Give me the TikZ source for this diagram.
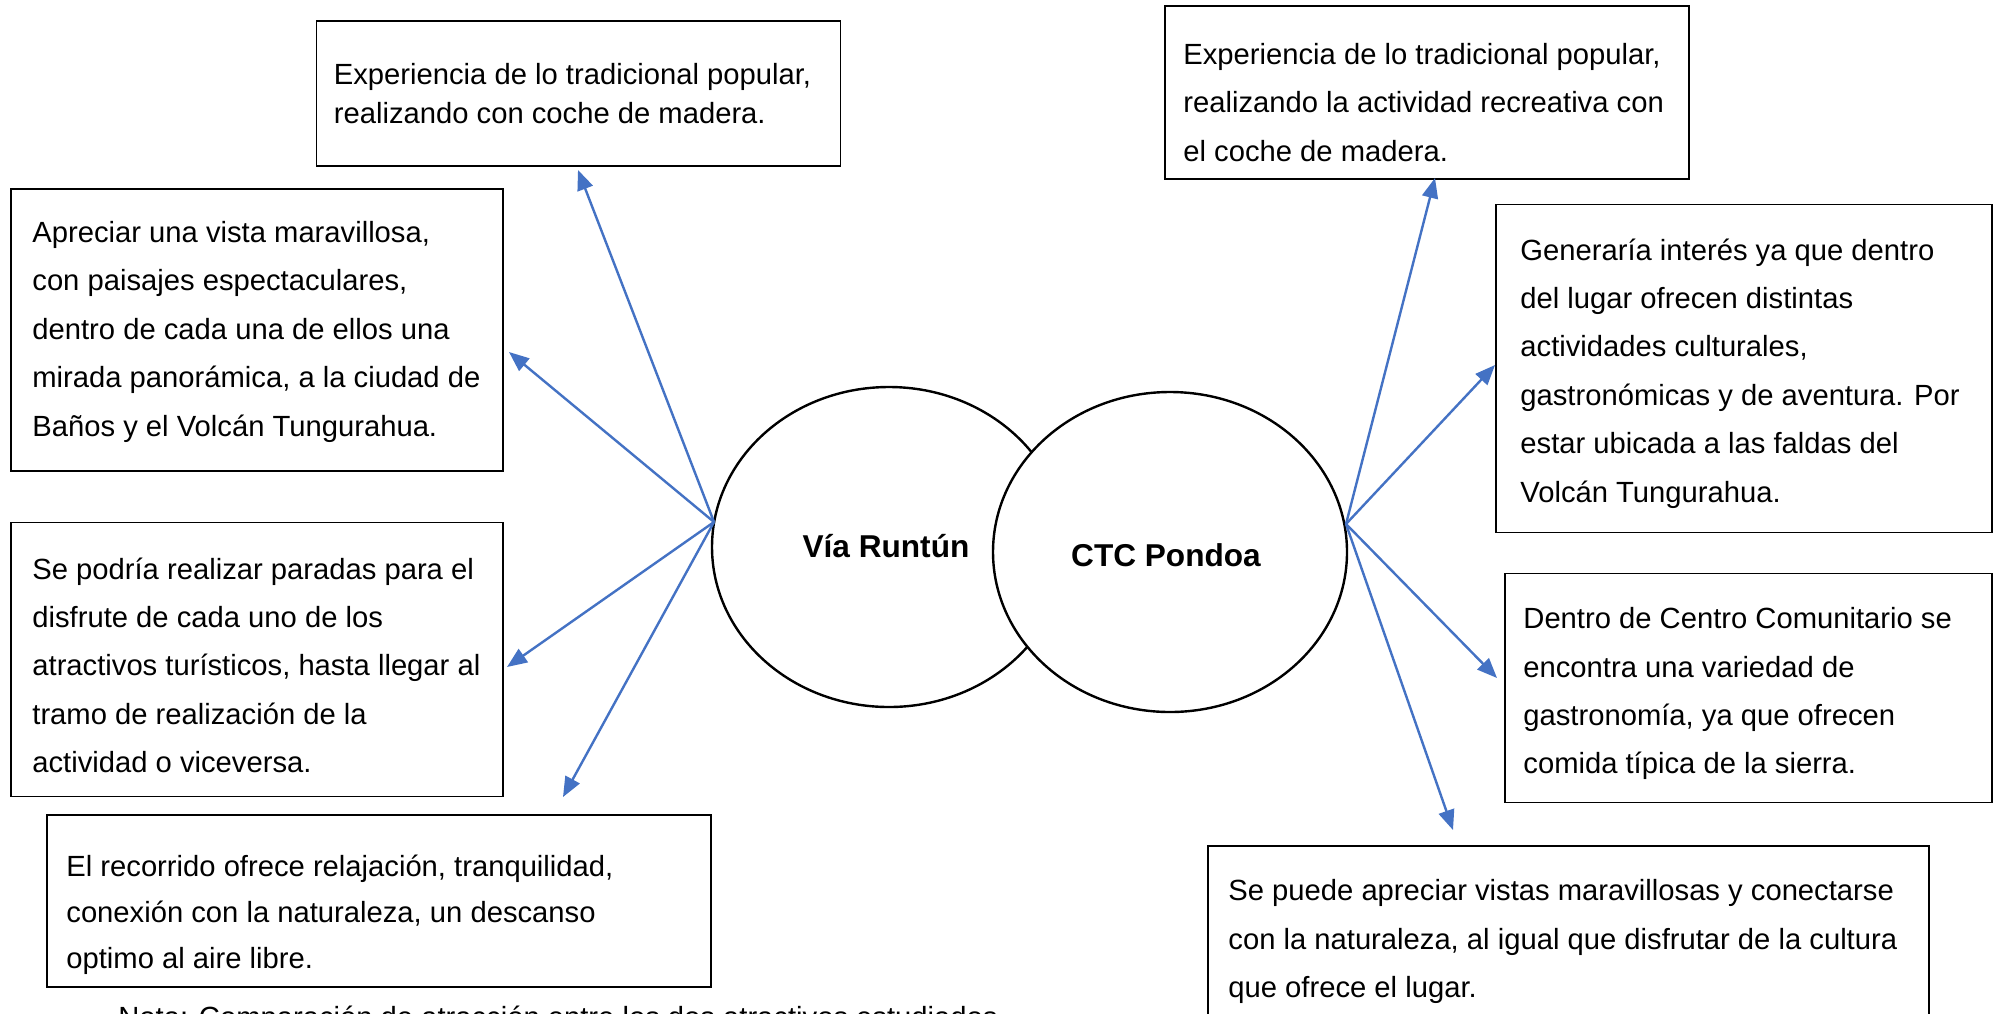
\documentclass[tikz,border=0pt]{standalone}
\usepackage{fontspec}
\setmainfont{Liberation Sans}
\usetikzlibrary{arrows.meta,shapes.geometric}
\definecolor{arrowblue}{HTML}{4472C4}
\begin{document}
\begin{tikzpicture}[x=0.5pt,y=-0.5pt,
  boxframe/.style={draw, line width=0.75pt, rectangle, inner sep=0pt, anchor=north west},
  boxtext/.style={anchor=west, align=left, inner sep=0pt, font=\fontsize{14.6}{24.2}\selectfont},
  bubble/.style={draw, line width=1.2pt, ellipse, inner sep=0pt, fill=white, minimum width=177pt, minimum height=160pt},
  bubbletext/.style={font=\fontsize{15.8}{19}\selectfont\bfseries, inner sep=0pt},
  link/.style={draw=arrowblue, line width=1.2pt, -{Triangle[length=10pt,width=8pt]}}
]
\useasboundingbox (0,0) rectangle (1995,1013);
\clip (0,0) rectangle (1995,1013);
\fill[white] (0,0) rectangle (1995,1013);

% boxes
\node[boxframe, minimum width=262pt, minimum height=72.5pt] (b1) at (315.5,20.4) {};
\node[boxtext, font=\fontsize{14.6}{19.8}\selectfont] (b1t) at ([xshift=9pt]b1.west) {Experiencia de lo tradicional popular,\\realizando con coche de madera.};

\node[boxframe, minimum width=246pt, minimum height=141pt] (b2) at (10,188) {};
\node[boxtext] (b2t) at ([xshift=11pt,yshift=-1pt]b2.west) {Apreciar una vista maravillosa,\\con paisajes espectaculares,\\dentro de cada una de ellos una\\mirada panorámica, a la ciudad de\\Baños y el Volcán Tungurahua.};

\node[boxframe, minimum width=246pt, minimum height=137pt] (b3) at (10,521.6) {};
\node[boxtext] (b3t) at ([xshift=11pt,yshift=-3pt]b3.west) {Se podría realizar paradas para el\\disfrute de cada uno de los\\atractivos turísticos, hasta llegar al\\tramo de realización de la\\actividad o viceversa.};

\node[boxframe, minimum width=332pt, minimum height=86pt] (b4) at (46,814) {};
\node[boxtext, font=\fontsize{14.6}{23}\selectfont] (b4t) at ([xshift=10pt,yshift=-7pt]b4.west) {El recorrido ofrece relajación, tranquilidad,\\conexión con la naturaleza, un descanso\\optimo al aire libre.};

\node[boxframe, minimum width=262pt, minimum height=86.5pt] (b5) at (1164,5) {};
\node[boxtext] (b5t) at ([xshift=9.5pt,yshift=-5pt]b5.west) {Experiencia de lo tradicional popular,\\realizando la actividad recreativa con\\el coche de madera.};

\node[boxframe, minimum width=248pt, minimum height=164pt] (b6) at (1495,203.6) {};
\node[boxtext] (b6t) at ([xshift=12.5pt,yshift=-2.5pt]b6.west) {Generaría interés ya que dentro\\del lugar ofrecen distintas\\actividades culturales,\\gastronómicas y de aventura. Por\\estar ubicada a las faldas del\\Volcán Tungurahua.};

\node[boxframe, minimum width=243.5pt, minimum height=114.5pt] (b7) at (1504,572.5) {};
\node[boxtext] (b7t) at ([xshift=9.5pt,yshift=-3pt]b7.west) {Dentro de Centro Comunitario se\\encontra una variedad de\\gastronomía, ya que ofrecen\\comida típica de la sierra.};

\node[boxframe, minimum width=360.5pt, minimum height=92pt] (b8) at (1207,845) {};
\node[boxtext] (b8t) at ([xshift=10.5pt,yshift=-2pt]b8.west) {Se puede apreciar vistas maravillosas y conectarse\\con la naturaleza, al igual que disfrutar de la cultura\\que ofrece el lugar.};

% bubbles
\node[bubble] (c1) at (889,547) {};
\node[bubble] (c2) at (1170,552) {};
\node[bubbletext] (c1t) at (886,546) {Vía Runtún};
\node[bubbletext] (c2t) at (1166,555) {CTC Pondoa};

% arrow origins and tips
\coordinate (L) at (714,522);
\coordinate (R) at (1346,524);
\coordinate (t1) at (578,170);
\coordinate (t2) at (509,352);
\coordinate (t3) at (507,667);
\coordinate (t4) at (563,797);
\coordinate (t5) at (1435,178);
\coordinate (t6) at (1495,365);
\coordinate (t7) at (1497,678);
\coordinate (t8) at (1453,830);

\draw[link] (L) -- (t1);
\draw[link] (L) -- (t2);
\draw[link] (L) -- (t3);
\draw[link] (L) -- (t4);
\draw[link] (R) -- (t5);
\draw[link] (R) -- (t6);
\draw[link] (R) -- (t7);
\draw[link] (R) -- (t8);

% note (cut off at the bottom edge, as in the reference)
\node[anchor=base west, inner sep=0pt, font=\fontsize{14.6}{18}\selectfont] (nota) at (118,1027) {Nota: Comparación de atracción entre los dos atractivos estudiados};
\end{tikzpicture}
\end{document}
